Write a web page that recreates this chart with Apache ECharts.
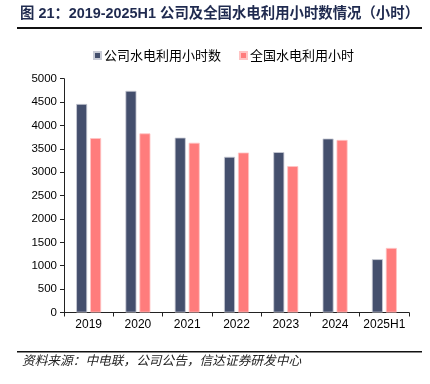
<!DOCTYPE html>
<html>
<head>
<meta charset="utf-8">
<script src="https://cdn.jsdelivr.net/npm/echarts@6/dist/echarts.min.js"></script>
<style>
html,body{margin:0;padding:0;background:#fff;}
#c{width:430px;height:384px;}
</style>
</head>
<body>
<div id="c"></div>
<script>
const categories = ['2019', '2020', '2021', '2022', '2023', '2024', '2025H1'];
const companyHours = [4460, 4740, 3740, 3330, 3430, 3720, 1140];
const nationalHours = [3730, 3830, 3630, 3420, 3130, 3690, 1380];
const yTicks = [0, 500, 1000, 1500, 2000, 2500, 3000, 3500, 4000, 4500, 5000];
const seriesNames = ['公司水电利用小时数', '全国水电利用小时'];
const titleText = '图 21：2019-2025H1 公司及全国水电利用小时数情况（小时）';
const sourceText = '资料来源：中电联，公司公告，信达证券研发中心';

const chart = echarts.init(document.getElementById('c'), null, {renderer: 'canvas'});
const font = '"Liberation Sans", "Noto Sans CJK SC", sans-serif';
chart.setOption({
  backgroundColor: '#fff',
  animation: false,
  textStyle: {fontFamily: font},
  graphic: [
    {type: 'text', left: 20, top: 7, style: {text: titleText, font: 'bold 14.4px "Liberation Sans", "Noto Sans CJK SC", sans-serif', fill: '#1f2a4f'}},
    {type: 'rect', shape: {x: 17, y: 27, width: 405, height: 2}, style: {fill: '#111'}},
    {type: 'rect', shape: {x: 17, y: 351, width: 405, height: 1.5}, style: {fill: '#111'}},
    {type: 'text', left: 22, top: 354, style: {text: sourceText, font: 'italic 12.7px "Noto Sans CJK SC", sans-serif', fill: '#222'}}
  ],
  legend: {
    top: 44,
    left: 88,
    itemWidth: 7,
    itemHeight: 7,
    itemGap: 18,
    icon: 'rect',
    textStyle: {fontSize: 13, color: '#000', fontFamily: '"Noto Sans CJK SC", sans-serif', padding: [0, 0, 0, -2]},
    data: seriesNames
  },
  grid: {left: 64, right: 21, top: 78.7, bottom: 71.5, containLabel: false},
  xAxis: {
    type: 'category',
    data: categories,
    axisLine: {lineStyle: {color: '#222', width: 1}},
    axisTick: {show: true, length: 4, inside: false, lineStyle: {color: '#222'}},
    axisLabel: {color: '#000', fontSize: 12, margin: 6, interval: 0},
    boundaryGap: true
  },
  yAxis: {
    type: 'value',
    min: yTicks[0],
    max: yTicks[yTicks.length - 1],
    interval: 500,
    axisLine: {show: true, lineStyle: {color: '#222', width: 1}},
    axisTick: {show: true, length: 4, lineStyle: {color: '#222'}},
    axisLabel: {color: '#000', fontSize: 11.5, margin: 7, formatter: function (v) { return String(v); }},
    splitLine: {show: false}
  },
  series: [
    {
      name: seriesNames[0],
      type: 'bar',
      data: companyHours,
      barWidth: 11,
      barGap: '27%',
      itemStyle: {color: '#444f6d', borderColor: '#c9ccd6', borderWidth: 0.8}
    },
    {
      name: seriesNames[1],
      type: 'bar',
      data: nationalHours,
      barWidth: 11,
      itemStyle: {color: '#ff7c7c', borderColor: '#ffc4c4', borderWidth: 0.8}
    }
  ]
});
</script>
</body>
</html>
